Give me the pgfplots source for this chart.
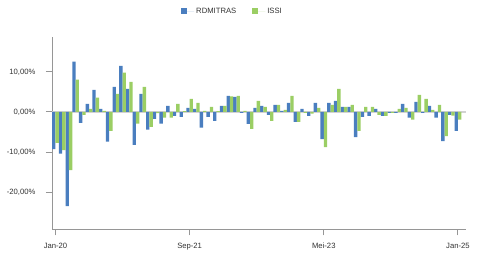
\documentclass[border=0pt]{standalone}
\usepackage{pgfplots}
\usepackage{pgfplotstable}
\pgfplotsset{compat=1.18}
\usepackage{fontspec}
\setmainfont{Liberation Sans}
\definecolor{cblue}{RGB}{74,126,191}
\definecolor{cgreen}{RGB}{155,206,100}
\definecolor{axgray}{RGB}{150,150,150}
\pgfplotstableread{
m rd issi
0 -9.25 -7.7
1 -10.4 -9.5
2 -23.5 -14.5
3 12.6 8.1
4 -2.7 -0.75
5 2.0 0.75
6 5.5 3.6
7 0.75 0.3
8 -7.4 -4.7
9 6.25 4.5
10 11.5 9.8
11 5.8 7.5
12 -8.2 -2.9
13 4.5 6.25
14 -4.4 -3.75
15 -1.7 -0.3
16 -2.9 -1.4
17 1.5 -1.4
18 -1.0 2.0
19 -1.2 0.2
20 1.0 3.25
21 0.75 2.25
22 -3.9 0.25
23 -1.2 1.25
24 -2.2 0.2
25 1.5 1.5
26 4.0 3.9
27 3.75 4.0
28 -0.2 0.25
29 -3.0 -4.2
30 1.0 2.75
31 1.5 1.25
32 -0.75 -2.2
33 1.75 1.75
34 0.25 0.5
35 2.25 4.0
36 -2.5 -2.5
37 0.75 -0.2
38 -1.0 -0.4
39 2.25 1.0
40 -6.75 -8.75
41 2.25 1.75
42 2.75 5.75
43 1.25 1.25
44 1.25 1.75
45 -6.25 -4.75
46 -1.25 1.25
47 -1.0 1.25
48 0.75 -0.7
49 -1.0 -1.0
50 -0.25 -0.25
51 -0.25 0.75
52 2.0 1.0
53 -1.4 -1.9
54 2.5 4.25
55 -0.25 3.25
56 1.5 0.5
57 -1.4 1.75
58 -7.25 -6.0
59 -0.75 -0.9
60 -4.7 -1.9
}\data
\begin{document}
\begin{tikzpicture}
\path[use as bounding box] (-52bp,-23.7bp) rectangle (430bp,229.3bp);
\begin{axis}[
  at={(0,0)}, anchor=south west,
  scale only axis, width=414bp, height=192.6bp,
  xmin=-0.52, xmax=61.2,
  ymin=-29.3, ymax=18.8,
  axis x line*=bottom, axis y line*=left,
  axis line style={axgray, line width=1bp},
  tick style={axgray, line width=1bp},
  tick align=outside, major tick length=6bp,
  xtick={0,20,40,60},
  xticklabels={Jan-20,Sep-21,Mei-23,Jan-25},
  ytick={-20,-10,0,10},
  yticklabels={{-20,00\%},{-10,00\%},{0,00\%},{10,00\%}},
  ticklabel style={font=\fontsize{7.7}{9}\selectfont, text=black!80},
  yticklabel style={xshift=-7bp},
  xticklabel style={yshift=-4bp},
  extra y ticks={0}, extra y tick labels={},
  extra y tick style={grid=major, major grid style={gray!35, line width=1.3bp}, major tick length=0pt},
  legend style={draw=none, at={(0.436,1.133)}, anchor=center, font=\fontsize{7.7}{9}\selectfont, text=black!80,
    /tikz/every even column/.append style={column sep=14bp}},
  legend columns=2,
  clip=false,
]
\addplot[ybar, bar width=0.5, bar shift=-0.25, fill=cblue, draw=none,
  legend image code/.code={\fill[cblue] (0bp,-3bp) rectangle (6bp,3bp); \path (0bp,0bp) -- (13bp,0bp);}] table[x=m, y=rd] {\data};
\addlegendentry{RDMITRAS}
\addplot[ybar, bar width=0.5, bar shift=0.25, fill=cgreen, draw=none,
  legend image code/.code={\fill[cgreen] (0bp,-3bp) rectangle (6bp,3bp); \path (0bp,0bp) -- (13bp,0bp);}] table[x=m, y=issi] {\data};
\addlegendentry{ISSI}
\end{axis}
\end{tikzpicture}
\end{document}
